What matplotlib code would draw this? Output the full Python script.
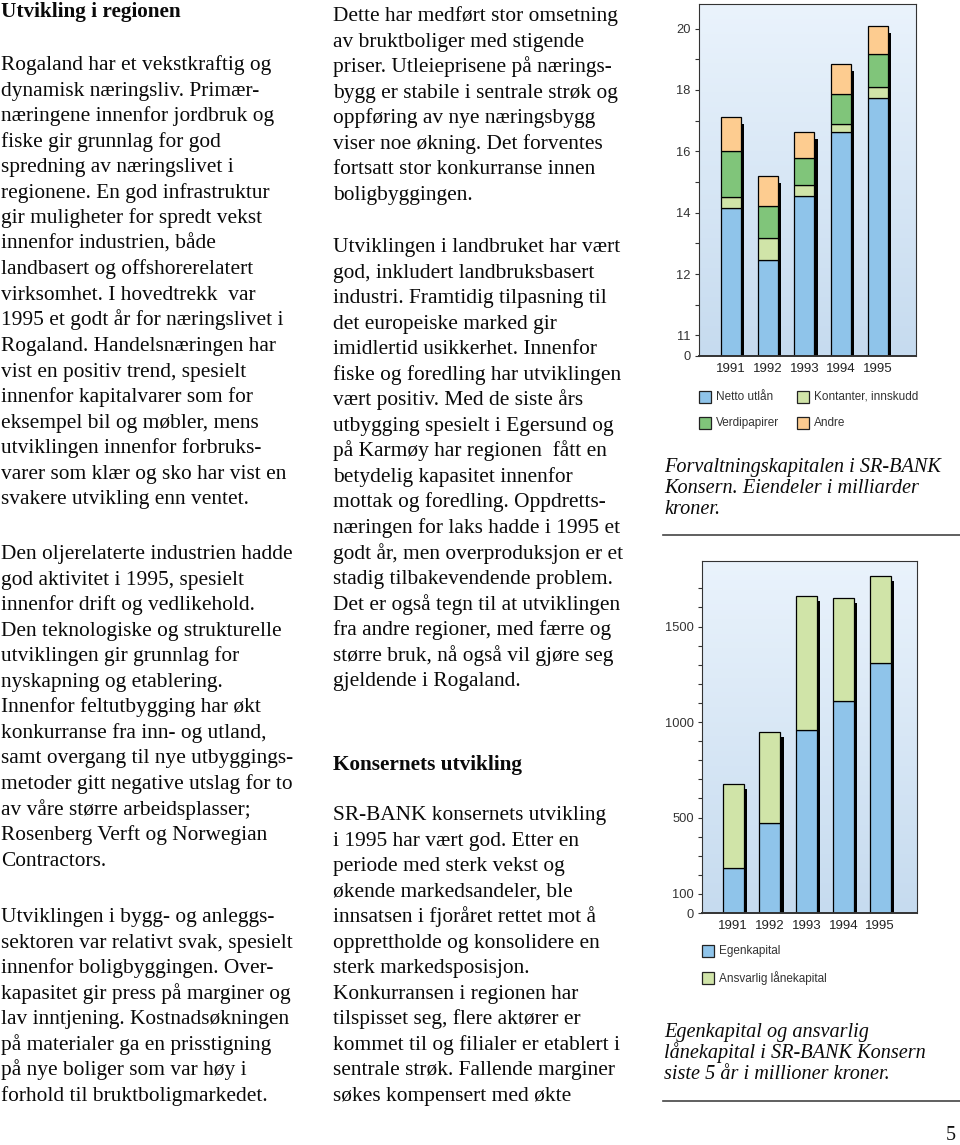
import numpy as np
import matplotlib
matplotlib.use("Agg")
import matplotlib.pyplot as plt
from matplotlib.patches import Rectangle
from matplotlib.lines import Line2D
from matplotlib.colors import LinearSegmentedColormap

W, H = 960, 1145

years = ["1991", "1992", "1993", "1994", "1995"]

# Forvaltningskapitalen, milliarder kroner (stablet)
netto_utlan = [14.15, 12.46, 14.55, 16.63, 17.75]
kontanter = [0.36, 0.73, 0.35, 0.26, 0.33]
verdipapirer = [1.49, 1.02, 0.87, 0.97, 1.08]
andre = [1.11, 0.97, 0.86, 0.97, 0.92]
top_ticks = [10, 12, 14, 16, 18, 20]
top_ticklabels = ["11", "12", "14", "16", "18", "20"]

# Egenkapital og ansvarlig lånekapital, millioner kroner
egenkapital = [237, 472, 960, 1110, 1310]
ansvarlig = [437, 476, 701, 538, 454]
bot_ticks = [0, 100, 500, 1000, 1500]

col1 = [
    ["Rogaland har et vekstkraftig og", "dynamisk næringsliv. Primær-",
     "næringene innenfor jordbruk og", "fiske gir grunnlag for god",
     "spredning av næringslivet i", "regionene. En god infrastruktur",
     "gir muligheter for spredt vekst", "innenfor industrien, både",
     "landbasert og offshorerelatert", "virksomhet. I hovedtrekk  var",
     "1995 et godt år for næringslivet i", "Rogaland. Handelsnæringen har",
     "vist en positiv trend, spesielt", "innenfor kapitalvarer som for",
     "eksempel bil og møbler, mens", "utviklingen innenfor forbruks-",
     "varer som klær og sko har vist en", "svakere utvikling enn ventet."],
    ["Den oljerelaterte industrien hadde", "god aktivitet i 1995, spesielt",
     "innenfor drift og vedlikehold.", "Den teknologiske og strukturelle",
     "utviklingen gir grunnlag for", "nyskapning og etablering.",
     "Innenfor feltutbygging har økt", "konkurranse fra inn- og utland,",
     "samt overgang til nye utbyggings-", "metoder gitt negative utslag for to",
     "av våre større arbeidsplasser;", "Rosenberg Verft og Norwegian",
     "Contractors."],
    ["Utviklingen i bygg- og anleggs-", "sektoren var relativt svak, spesielt",
     "innenfor boligbyggingen. Over-", "kapasitet gir press på marginer og",
     "lav inntjening. Kostnadsøkningen", "på materialer ga en prisstigning",
     "på nye boliger som var høy i", "forhold til bruktboligmarkedet."],
]
col2 = [
    ["Dette har medført stor omsetning", "av bruktboliger med stigende",
     "priser. Utleieprisene på nærings-", "bygg er stabile i sentrale strøk og",
     "oppføring av nye næringsbygg", "viser noe økning. Det forventes",
     "fortsatt stor konkurranse innen", "boligbyggingen."],
    ["Utviklingen i landbruket har vært", "god, inkludert landbruksbasert",
     "industri. Framtidig tilpasning til", "det europeiske marked gir",
     "imidlertid usikkerhet. Innenfor", "fiske og foredling har utviklingen",
     "vært positiv. Med de siste års", "utbygging spesielt i Egersund og",
     "på Karmøy har regionen  fått en", "betydelig kapasitet innenfor",
     "mottak og foredling. Oppdretts-", "næringen for laks hadde i 1995 et",
     "godt år, men overproduksjon er et", "stadig tilbakevendende problem.",
     "Det er også tegn til at utviklingen", "fra andre regioner, med færre og",
     "større bruk, nå også vil gjøre seg", "gjeldende i Rogaland."],
    ["SR-BANK konsernets utvikling", "i 1995 har vært god. Etter en",
     "periode med sterk vekst og", "økende markedsandeler, ble",
     "innsatsen i fjoråret rettet mot å", "opprettholde og konsolidere en",
     "sterk markedsposisjon.", "Konkurransen i regionen har",
     "tilspisset seg, flere aktører er", "kommet til og filialer er etablert i",
     "sentrale strøk. Fallende marginer", "søkes kompensert med økte"],
]

SERIF = "Liberation Serif"
SANS = "Liberation Sans"
LINE = 25.55
BODY = 15.4

fig = plt.figure(figsize=(W / 100, H / 100), dpi=100)


def fx(x):
    return x / W


def fy(y):
    return 1 - y / H


def axes_px(x0, y0, x1, y1):
    return fig.add_axes([fx(x0), fy(y1), (x1 - x0) / W, (y1 - y0) / H])


def put_lines(lines, x, y0, size=BODY, step=LINE, **kw):
    for i, s in enumerate(lines):
        fig.text(fx(x), fy(y0 + i * step), s, fontsize=size, family=SERIF,
                 va="baseline", ha="left", color="#0a0a0a", **kw)


# ---- tekstspalter
fig.text(fx(1), fy(17), "Utvikling i regionen", fontsize=15.3, family=SERIF,
         weight="bold", va="baseline", color="#0a0a0a")
for par, y0 in zip(col1, [70, 559, 922]):
    put_lines(par, 1, y0)
put_lines(col2[0], 333, 21)
put_lines(col2[1], 333, 252)
fig.text(fx(333), fy(770), "Konsernets utvikling", fontsize=15.3, family=SERIF,
         weight="bold", va="baseline", color="#0a0a0a")
put_lines(col2[2], 333, 820)

# ---- diagram
blue, lgreen, green, orange = "#8fc4ea", "#d0e4a8", "#80c57a", "#fdcc90"
grad = LinearSegmentedColormap.from_list("bg", ["#eaf3fc", "#c6dbef"])
x = np.arange(1, len(years) + 1)


def setup(ax, ylo, yhi, xlo, xhi):
    ax.set_xlim(xlo, xhi)
    ax.set_ylim(ylo, yhi)
    ax.imshow(np.linspace(0, 1, 256).reshape(-1, 1), cmap=grad, aspect="auto",
              extent=[xlo, xhi, ylo, yhi], zorder=0)
    for s in ax.spines.values():
        s.set_color("#333333")
        s.set_linewidth(0.8)
    ax.spines["bottom"].set_linewidth(1.4)
    ax.set_xticks(x)
    ax.set_xticklabels(years, family=SANS, fontsize=9.5, color="#222222")
    ax.tick_params(axis="x", length=0, pad=5)
    ax.tick_params(axis="y", which="both", direction="out", length=3,
                   width=0.8, pad=3, labelsize=9.3, colors="#333333")


# ---- øverste diagram (brutt akse)
ymin = 9.33
ax1 = axes_px(699, 4, 916, 356)
setup(ax1, ymin, 20.8, 0.13, 6.04)
bw = 0.55
tot = np.array(netto_utlan) + kontanter + verdipapirer + andre
ax1.bar(x + 0.09, tot - 0.22 - ymin, bottom=ymin, width=bw, color="black", zorder=1)
bottom = np.full(len(x), ymin)
for vals, c in [(np.array(netto_utlan) - ymin, blue), (kontanter, lgreen),
                (verdipapirer, green), (andre, orange)]:
    ax1.bar(x, vals, bottom=bottom, width=bw, color=c, edgecolor="black",
            linewidth=0.9, zorder=2)
    bottom = bottom + np.array(vals)
ax1.set_yticks([ymin] + top_ticks)
ax1.set_yticklabels(["0"] + top_ticklabels, family=SANS)
ax1.set_yticks([11, 13, 15, 17, 19], minor=True)

# ---- nederste diagram
ax2 = axes_px(702, 561, 917, 913)
setup(ax2, 0, 1843, 0.156, 6.0)
bw2 = 0.57
tot2 = np.array(egenkapital) + np.array(ansvarlig)
ax2.bar(x + 0.09, tot2 - 25, width=bw2, color="black", zorder=1)
ax2.bar(x, egenkapital, width=bw2, color=blue, edgecolor="black", linewidth=0.9, zorder=2)
ax2.bar(x, ansvarlig, bottom=egenkapital, width=bw2, color=lgreen,
        edgecolor="black", linewidth=0.9, zorder=2)
ax2.set_yticks(bot_ticks)
ax2.set_yticklabels([str(t) for t in bot_ticks], family=SANS)
ax2.set_yticks(np.arange(0, 1800, 100), minor=True)


# ---- tegnforklaring
def legend_item(xb, yc, color, label):
    fig.add_artist(Rectangle((fx(xb), fy(yc + 6)), 12 / W, 12 / H, transform=fig.transFigure,
                             facecolor=color, edgecolor="#222222", linewidth=0.9))
    fig.text(fx(xb + 17), fy(yc), label, family=SANS, fontsize=8.5,
             va="center", color="#333333")


legend_item(699, 397, blue, "Netto utlån")
legend_item(797, 397, lgreen, "Kontanter, innskudd")
legend_item(699, 423, green, "Verdipapirer")
legend_item(797, 423, orange, "Andre")
legend_item(702, 951, blue, "Egenkapital")
legend_item(702, 978, lgreen, "Ansvarlig lånekapital")

# ---- bildetekster
put_lines(["Forvaltningskapitalen i SR-BANK", "Konsern. Eiendeler i milliarder", "kroner."],
          664, 472, size=14.6, step=21, style="italic")
put_lines(["Egenkapital og ansvarlig", "lånekapital i SR-BANK Konsern",
           "siste 5 år i millioner kroner."], 664, 1037, size=14.6, step=21, style="italic")

for yy in [535, 1101]:
    fig.add_artist(Line2D([fx(663), fx(960)], [fy(yy), fy(yy)], color="#444444",
                          linewidth=1.2, transform=fig.transFigure))

fig.text(fx(956), fy(1136), "5", family=SERIF, fontsize=14.5, ha="right",
         va="center", color="#111111")

fig.savefig("out.png", dpi=100)
